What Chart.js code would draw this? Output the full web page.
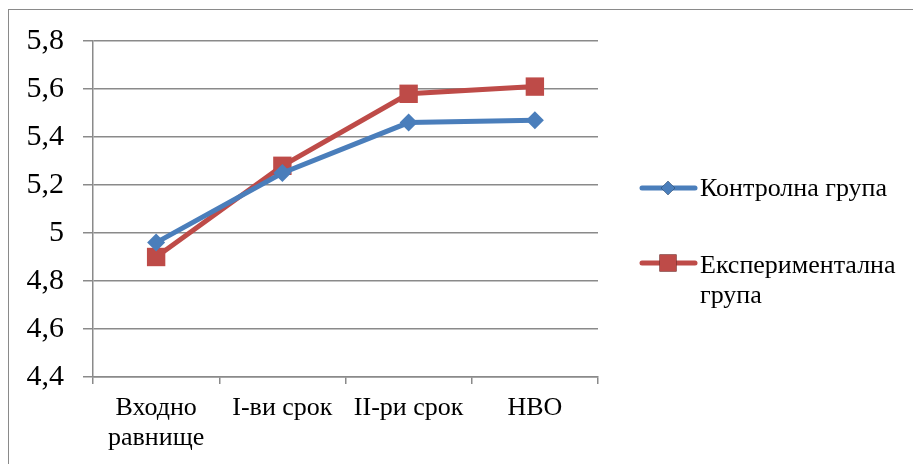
<!DOCTYPE html>
<html>
<head>
<meta charset="utf-8">
<script src="https://cdn.jsdelivr.net/npm/chart.js@4.4.1/dist/chart.umd.min.js"></script>
<style>
  html, body { margin: 0; padding: 0; background: #fff; overflow: hidden; }
  #frame { position: absolute; left: 8px; top: 9px; width: 1000px; height: 1000px;
           border-left: 1.5px solid #8a8a8a; border-top: 1.5px solid #8a8a8a; }
  #wrap { position: absolute; left: 0; top: 0; width: 913px; height: 464px; }
</style>
</head>
<body>
<div id="frame"></div>
<div id="wrap"><canvas id="chart" width="913" height="464"></canvas></div>
<script>
// categories and series
const categories = [['Входно', 'равнище'], 'I-ви срок', 'II-ри срок', 'НВО'];
const controlValues = [4.96, 5.25, 5.46, 5.47];
const experimentValues = [4.90, 5.28, 5.58, 5.61];
const seriesNames = ['Контролна група', 'Експериментална група'];
const yTicks = [4.4, 4.6, 4.8, 5.0, 5.2, 5.4, 5.6, 5.8];

const blue = '#4a7ebb';
const red = '#be4b48';
const gridColor = '#8a8a8a';
const fontName = "'Liberation Serif'";

Chart.defaults.font.family = fontName;

// right side legend, drawn by hand so the long name can wrap
const sideLegend = {
  id: 'sideLegend',
  afterDraw(chart) {
    const ctx = chart.ctx;
    const rows = [188, 263];
    const textShift = [1, 3];
    ctx.save();
    chart.data.datasets.forEach((ds, i) => {
      const y = rows[i];
      ctx.strokeStyle = ds.borderColor;
      ctx.lineWidth = 5;
      ctx.lineCap = 'round';
      ctx.beginPath();
      ctx.moveTo(642, y);
      ctx.lineTo(695, y);
      ctx.stroke();
      Chart.helpers.drawPoint(ctx, {
        pointStyle: ds.pointStyle,
        radius: ds.pointStyle === 'rect' ? 12 : 7,
        borderWidth: 0
      }, 668, y);
      ctx.fillStyle = ds.borderColor;
      ctx.fill();

      // simple word wrap
      ctx.font = '26px ' + fontName;
      ctx.textBaseline = 'middle';
      ctx.textAlign = 'left';
      const words = ds.label.split(' ');
      const lines = [];
      let cur = '';
      words.forEach(w => {
        const test = cur ? cur + ' ' + w : w;
        if (ctx.measureText(test).width > 205 && cur) {
          lines.push(cur);
          cur = w;
        } else {
          cur = test;
        }
      });
      lines.push(cur);
      ctx.fillStyle = '#000';
      lines.forEach((t, k) => ctx.fillText(t, 700, y + textShift[i] + k * 30));
    });
    ctx.restore();
  }
};

const ctx = document.getElementById('chart').getContext('2d');
new Chart(ctx, {
  type: 'line',
  data: {
    labels: categories,
    datasets: [{
      label: seriesNames[0],
      data: controlValues,
      borderColor: blue,
      backgroundColor: blue,
      borderWidth: 5,
      pointStyle: 'rectRot',
      pointRadius: 9,
      pointBorderWidth: 0,
      fill: false,
      tension: 0
    }, {
      label: seriesNames[1],
      data: experimentValues,
      borderColor: red,
      backgroundColor: red,
      borderWidth: 5,
      pointStyle: 'rect',
      pointRadius: 13,
      pointBorderWidth: 0,
      fill: false,
      tension: 0
    }]
  },
  options: {
    responsive: false,
    animation: false,
    devicePixelRatio: 1,
    layout: {
      padding: { left: 0, top: 41, right: 315, bottom: 7 }
    },
    plugins: {
      legend: { display: false },
      tooltip: { enabled: false }
    },
    scales: {
      x: {
        offset: true,
        grid: {
          offset: true,
          drawOnChartArea: false,
          drawTicks: true,
          tickLength: 7,
          color: gridColor,
          lineWidth: 1.5
        },
        border: { display: true, color: gridColor, width: 1.5 },
        ticks: {
          color: '#000',
          padding: 9,
          maxRotation: 0,
          autoSkip: false,
          font: { family: fontName, size: 26, lineHeight: 1.15 }
        },
        afterFit(scale) { scale.height = 80; }
      },
      y: {
        min: 4.4,
        max: 5.8,
        afterBuildTicks(scale) {
          scale.ticks = yTicks.map(v => ({ value: v }));
        },
        grid: {
          drawTicks: true,
          tickLength: 10,
          color: gridColor,
          lineWidth: 1.5
        },
        border: { display: true, color: gridColor, width: 1.5 },
        ticks: {
          color: '#000',
          padding: 19,
          font: { family: fontName, size: 30 },
          callback: v => String(Math.round(v * 10) / 10).replace('.', ',')
        },
        afterFit(scale) { scale.width = 93; }
      }
    }
  },
  plugins: [sideLegend]
});
</script>
</body>
</html>
